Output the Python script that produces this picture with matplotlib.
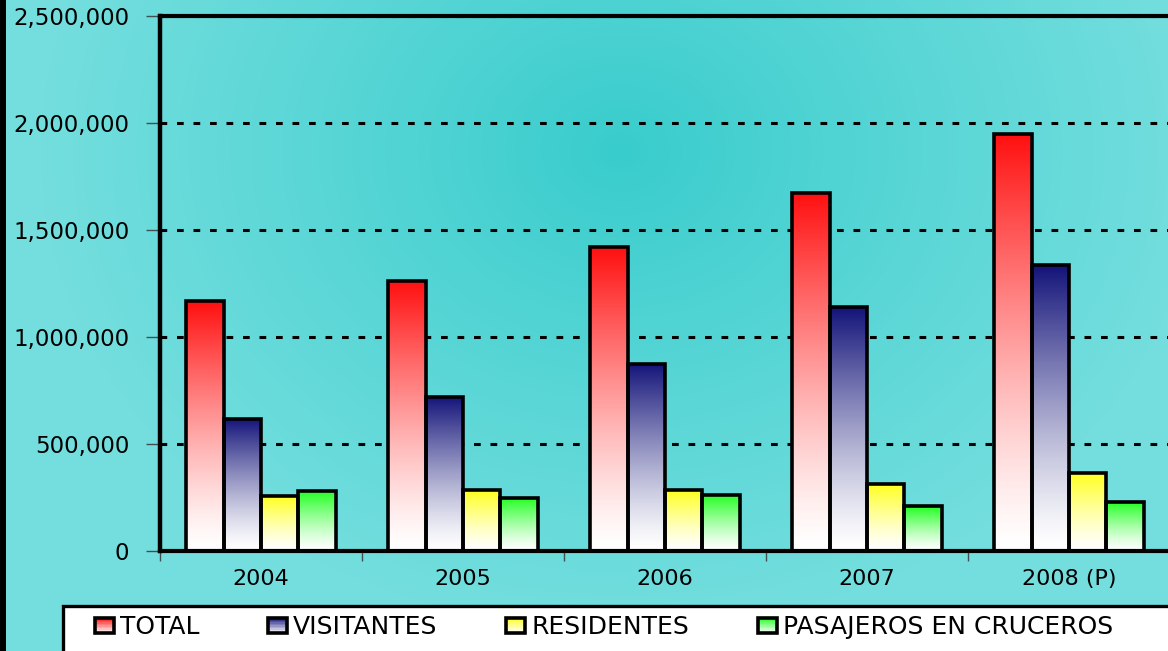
import numpy as np
import matplotlib
matplotlib.use("Agg")
import matplotlib.pyplot as plt
from matplotlib.colors import LinearSegmentedColormap
from matplotlib.patches import Rectangle
from matplotlib.lines import Line2D
from matplotlib.legend_handler import HandlerBase
from matplotlib.ticker import FuncFormatter, FixedLocator

# ---------------- data ----------------
years = ['2004', '2005', '2006', '2007', '2008 (P)']
series_names = ['TOTAL', 'VISITANTES', 'RESIDENTES', 'PASAJEROS EN CRUCEROS']
total = [1168000, 1262000, 1420000, 1673000, 1949000]
visitantes = [617000, 720000, 874000, 1140000, 1336000]
residentes = [257000, 285000, 285000, 313000, 364000]
cruceros = [281000, 248000, 262000, 210000, 229000]
y_ticks = [0, 500000, 1000000, 1500000, 2000000, 2500000]

series = [total, visitantes, residentes, cruceros]
top_colors = ['#ff1010', '#14147a', '#ffff20', '#20ff20']

plt.rcParams['font.family'] = ['DejaVu Sans']

W, H = 1168, 651
fig = plt.figure(figsize=(W / 100, H / 100), dpi=100)

# ---------- background radial gradient over whole figure ----------
bg = fig.add_axes([0, 0, 1, 1], zorder=-10)
yy, xx = np.mgrid[0:H, 0:W]
r = np.sqrt(((xx - 620) / 580.0) ** 2 + ((yy - 150) / 480.0) ** 2)
t = np.clip(r, 0, 1) ** 0.9
c0 = np.array([0x38, 0xcc, 0xcc]) / 255.0
c1 = np.array([0x74, 0xde, 0xde]) / 255.0
img = c0[None, None, :] + (c1 - c0)[None, None, :] * t[:, :, None]
bg.imshow(img, extent=(0, 1, 0, 1), aspect='auto', origin='upper')
bg.set_xlim(0, 1)
bg.set_ylim(0, 1)
bg.axis('off')

# ---------- main axes ----------
left, right, top, bottom = 160, 1170, 16, 551
ax = fig.add_axes([left / W, 1 - bottom / H, (right - left) / W, (bottom - top) / H])
ax.set_facecolor('none')

n = len(years)
bw = 0.185
offsets = (np.arange(len(series)) - 1.5) * bw
x = np.arange(n)

grad = np.linspace(0, 1, 256).reshape(-1, 1) ** 1.3
for si, (vals, col) in enumerate(zip(series, top_colors)):
    cmap = LinearSegmentedColormap.from_list('g%d' % si, ['#ffffff', col], N=256)
    for xi, v in zip(x, vals):
        x0 = xi + offsets[si] - bw / 2
        ax.imshow(grad, cmap=cmap, vmin=0, vmax=1, extent=(x0, x0 + bw, 0, v),
                  aspect='auto', origin='lower', zorder=2, interpolation='bilinear')
    ax.bar(x + offsets[si], vals, width=bw, facecolor='none', edgecolor='black',
           linewidth=2.6, zorder=3)

ax.set_xlim(-0.5, n - 0.5)
ax.set_ylim(0, 2500000)

# grid
ax.yaxis.set_major_locator(FixedLocator(y_ticks))
ax.yaxis.set_major_formatter(FuncFormatter(lambda v, p: '{:,.0f}'.format(v)))
ax.grid(axis='y', color='black', linestyle=(0, (2.2, 3.2)), linewidth=2.2, zorder=1)
ax.set_axisbelow(True)

ax.set_xticks(x)
ax.set_xticklabels(years)
ax.set_xticks(np.arange(n + 1) - 0.5, minor=True)
ax.tick_params(axis='x', which='major', length=0, pad=13, labelsize=16)
ax.tick_params(axis='x', which='minor', length=7, width=1, color='#405050', direction='out')
ax.tick_params(axis='y', which='major', length=10, width=1, color='#405050', direction='out',
               pad=12, labelsize=16.5)

for side in ['left', 'top', 'bottom', 'right']:
    ax.spines[side].set_color('black')
ax.spines['left'].set_linewidth(3.2)
ax.spines['top'].set_linewidth(3.0)
ax.spines['bottom'].set_linewidth(3.0)
ax.spines['right'].set_linewidth(3.0)

# ---------- left figure border ----------
fig.add_artist(Line2D([3 / W, 3 / W], [0, 1], color='black', linewidth=4.3,
                      transform=fig.transFigure))

# ---------- legend ----------
fig.add_artist(Rectangle((63 / W, -0.1), (1300 - 63) / W, 0.1 + (H - 606) / H,
                         transform=fig.transFigure, facecolor='white',
                         edgecolor='black', linewidth=2.4, zorder=5))


class GradHandler(HandlerBase):
    def __init__(self, color):
        super().__init__()
        self.color = color

    def create_artists(self, legend, orig_handle, xdescent, ydescent, width, height,
                       fontsize, trans):
        arts = []
        nstrip = 10
        cmap = LinearSegmentedColormap.from_list('h', ['#ffffff', self.color])
        x0, y0 = -xdescent, -ydescent
        for i in range(nstrip):
            frac = (i + 0.5) / nstrip
            arts.append(Rectangle((x0, y0 + height * i / nstrip), width, height / nstrip,
                                  facecolor=cmap(frac), edgecolor='none', transform=trans))
        arts.append(Rectangle((x0, y0), width, height, facecolor='none',
                              edgecolor='black', linewidth=2.6, transform=trans))
        return arts


handles = [Rectangle((0, 0), 1, 1) for _ in series_names]
hmap = {h: GradHandler(c) for h, c in zip(handles, top_colors)}
leg = fig.legend(handles, series_names, handler_map=hmap, ncol=4, frameon=False,
                 loc='center left', bbox_to_anchor=(95 / W, 1 - 627 / H),
                 fontsize=18, handlelength=0.75, handleheight=0.55, handletextpad=0.25,
                 columnspacing=2.75, borderpad=0, borderaxespad=0)
leg.set_zorder(6)

fig.savefig('out.png', dpi=100)
